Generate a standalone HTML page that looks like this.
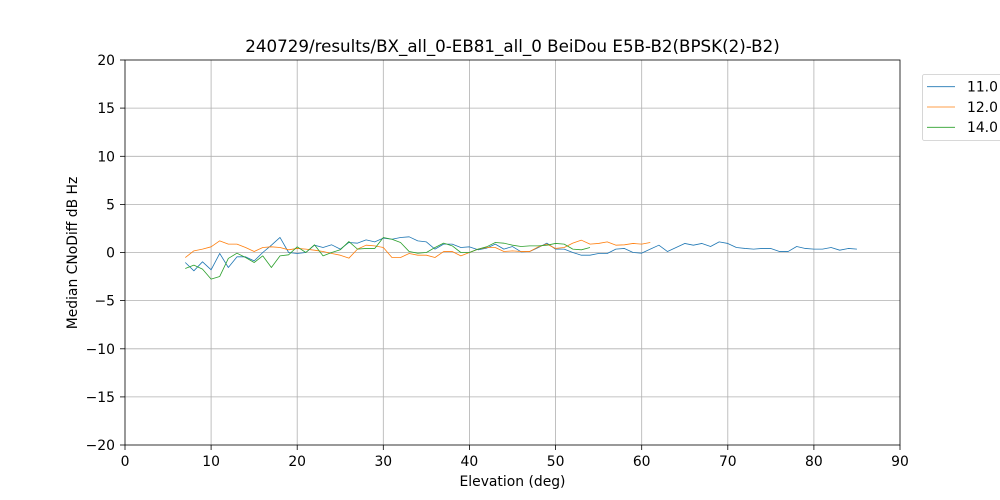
<!DOCTYPE html>
<html><head><meta charset="utf-8"><style>
html,body{margin:0;padding:0;background:#fff;}
svg{display:block;}
text{font-family:"DejaVu Sans","Liberation Sans",sans-serif;fill:#000;}
</style></head><body>
<svg width="1000" height="500" viewBox="0 0 1000 500" xmlns="http://www.w3.org/2000/svg">
<rect width="1000" height="500" fill="#fff"/>
<!-- grid -->
<g stroke="#b0b0b0" stroke-width="0.8">
<line x1="211.1" y1="60" x2="211.1" y2="445"/>
<line x1="297.2" y1="60" x2="297.2" y2="445"/>
<line x1="383.3" y1="60" x2="383.3" y2="445"/>
<line x1="469.4" y1="60" x2="469.4" y2="445"/>
<line x1="555.6" y1="60" x2="555.6" y2="445"/>
<line x1="641.7" y1="60" x2="641.7" y2="445"/>
<line x1="727.8" y1="60" x2="727.8" y2="445"/>
<line x1="813.9" y1="60" x2="813.9" y2="445"/>
<line x1="125" y1="108.1" x2="900" y2="108.1"/>
<line x1="125" y1="156.3" x2="900" y2="156.3"/>
<line x1="125" y1="204.4" x2="900" y2="204.4"/>
<line x1="125" y1="252.5" x2="900" y2="252.5"/>
<line x1="125" y1="300.6" x2="900" y2="300.6"/>
<line x1="125" y1="348.8" x2="900" y2="348.8"/>
<line x1="125" y1="396.9" x2="900" y2="396.9"/>
</g>
<!-- series -->
<g transform="translate(125,252.5) scale(8.6111,-9.625)" fill="none" stroke-linejoin="round">
<polyline vector-effect="non-scaling-stroke" stroke="#1f77b4" stroke-width="0.8" points="7,-1.04 8,-1.9 9,-0.97 10,-1.8 11,-0.1 12,-1.56 13,-0.45 14,-0.45 15,-0.87 16,0 17,0.76 18,1.56 19,0 20,-0.1 21,0 22,0.76 23,0.52 24,0.8 25,0.35 26,1.04 27,0.97 28,1.31 29,1.1 30,1.49 31,1.38 32,1.56 33,1.63 34,1.21 35,1.1 36,0.35 37,0.87 38,0.87 39,0.52 40,0.59 41,0.28 42,0.45 43,0.87 44,0.35 45,0.62 46,0.07 47,0.1 48,0.52 49,0.97 50,0.35 51,0.35 52,0 53,-0.28 54,-0.28 55,-0.1 56,-0.1 57,0.35 58,0.42 59,0 60,-0.07 61,0.35 62,0.76 63,0.1 64,0.52 65,0.94 66,0.76 67,0.94 68,0.62 69,1.1 70,0.94 71,0.52 72,0.42 73,0.35 74,0.42 75,0.42 76,0.1 77,0.1 78,0.62 79,0.42 80,0.35 81,0.35 82,0.52 83,0.24 84,0.42 85,0.35"/>
<polyline vector-effect="non-scaling-stroke" stroke="#ff7f0e" stroke-width="0.8" points="7,-0.52 8,0.17 9,0.35 10,0.59 11,1.21 12,0.87 13,0.87 14,0.52 15,0.1 16,0.52 17,0.59 18,0.52 19,0.28 20,0.42 21,0.35 22,0.24 23,0.1 24,-0.1 25,-0.28 26,-0.59 27,0.35 28,0.76 29,0.69 30,0.52 31,-0.52 32,-0.52 33,-0.1 34,-0.28 35,-0.28 36,-0.52 37,0.1 38,0.1 39,-0.35 40,0 41,0.35 42,0.52 43,0.52 44,0.1 45,0.17 46,0.1 47,0.1 48,0.59 49,0.87 50,0.42 51,0.52 52,0.97 53,1.28 54,0.87 55,0.94 56,1.1 57,0.76 58,0.8 59,0.94 60,0.87 61,1.04"/>
<polyline vector-effect="non-scaling-stroke" stroke="#2ca02c" stroke-width="0.8" points="7,-1.66 8,-1.31 9,-1.73 10,-2.77 11,-2.49 12,-0.62 13,-0.07 14,-0.52 15,-1.04 16,-0.35 17,-1.56 18,-0.35 19,-0.24 20,0.59 21,0 22,0.8 23,-0.35 24,0 25,0.28 26,1.14 27,0.35 28,0.42 29,0.42 30,1.56 31,1.38 32,1.04 33,0.1 34,-0.07 35,0 36,0.52 37,0.97 38,0.69 39,0 40,0 41,0.35 42,0.59 43,1.04 44,0.97 45,0.76 46,0.62 47,0.69 48,0.69 49,0.76 50,0.94 51,0.87 52,0.35 53,0.28 54,0.52"/>
</g>
<!-- axes frame -->
<rect x="125" y="60" width="775" height="385" fill="none" stroke="#000" stroke-width="0.8"/>
<!-- ticks -->
<g stroke="#000" stroke-width="0.8">
<line x1="125" y1="445" x2="125" y2="450"/>
<line x1="211.1" y1="445" x2="211.1" y2="450"/>
<line x1="297.2" y1="445" x2="297.2" y2="450"/>
<line x1="383.3" y1="445" x2="383.3" y2="450"/>
<line x1="469.4" y1="445" x2="469.4" y2="450"/>
<line x1="555.6" y1="445" x2="555.6" y2="450"/>
<line x1="641.7" y1="445" x2="641.7" y2="450"/>
<line x1="727.8" y1="445" x2="727.8" y2="450"/>
<line x1="813.9" y1="445" x2="813.9" y2="450"/>
<line x1="900" y1="445" x2="900" y2="450"/>
<line x1="120" y1="60" x2="125" y2="60"/>
<line x1="120" y1="108.1" x2="125" y2="108.1"/>
<line x1="120" y1="156.3" x2="125" y2="156.3"/>
<line x1="120" y1="204.4" x2="125" y2="204.4"/>
<line x1="120" y1="252.5" x2="125" y2="252.5"/>
<line x1="120" y1="300.6" x2="125" y2="300.6"/>
<line x1="120" y1="348.8" x2="125" y2="348.8"/>
<line x1="120" y1="396.9" x2="125" y2="396.9"/>
<line x1="120" y1="445" x2="125" y2="445"/>
</g>
<g font-size="13.9" text-anchor="middle">
<text x="125" y="466">0</text>
<text x="211.1" y="466">10</text>
<text x="297.2" y="466">20</text>
<text x="383.3" y="466">30</text>
<text x="469.4" y="466">40</text>
<text x="555.6" y="466">50</text>
<text x="641.7" y="466">60</text>
<text x="727.8" y="466">70</text>
<text x="813.9" y="466">80</text>
<text x="900" y="466">90</text>
</g>
<g font-size="13.9" text-anchor="end">
<text x="115" y="65">20</text>
<text x="115" y="113.1">15</text>
<text x="115" y="161.3">10</text>
<text x="115" y="209.4">5</text>
<text x="115" y="257.5">0</text>
<text x="115" y="305.6">−5</text>
<text x="115" y="353.8">−10</text>
<text x="115" y="401.9">−15</text>
<text x="115" y="450">−20</text>
</g>
<text x="512.5" y="486" font-size="13.9" text-anchor="middle">Elevation (deg)</text>
<text transform="translate(77,253) rotate(-90)" font-size="13.9" text-anchor="middle">Median CNoDiff dB Hz</text>
<text x="512.5" y="52" font-size="16.7" text-anchor="middle">240729/results/BX_all_0-EB81_all_0 BeiDou E5B-B2(BPSK(2)-B2)</text>
<!-- legend -->
<rect x="922.5" y="74.5" width="90" height="66" rx="2" fill="#fff" fill-opacity="0.8" stroke="#cccccc" stroke-width="0.8"/>
<line x1="927" y1="86.7" x2="955" y2="86.7" stroke="#1f77b4" stroke-width="0.8"/>
<line x1="927" y1="107" x2="955" y2="107" stroke="#ff7f0e" stroke-width="0.8"/>
<line x1="927" y1="127.3" x2="955" y2="127.3" stroke="#2ca02c" stroke-width="0.8"/>
<g font-size="13.9">
<text x="967" y="91.5">11.0</text>
<text x="967" y="111.8">12.0</text>
<text x="967" y="132.1">14.0</text>
</g>
</svg>
</body></html>
